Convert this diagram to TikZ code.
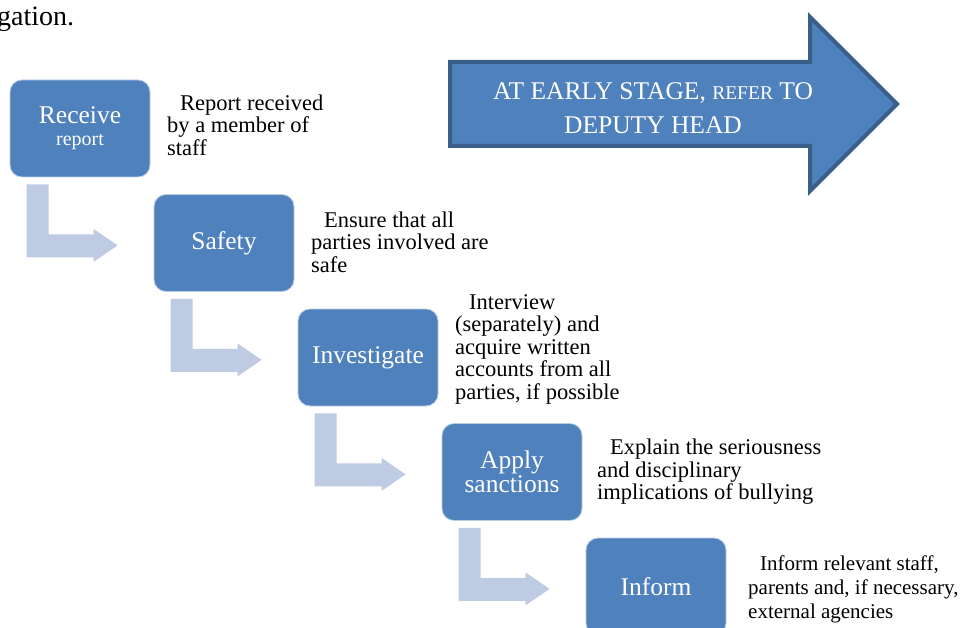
\documentclass[tikz,border=0pt]{standalone}
\usepackage{fontspec}
\setmainfont{Liberation Serif}
\usetikzlibrary{calc}
\definecolor{boxblue}{HTML}{4F81BD}
\definecolor{arrowedge}{HTML}{3A5F8B}
\definecolor{bentblue}{HTML}{BFCBE3}
\tikzset{
  stepbox/.style={rounded corners=12pt, fill=boxblue, draw=white!60!boxblue, line width=0.8pt,
    minimum width=140pt, minimum height=97pt, text=white, align=center,
    font=\fontsize{25.5pt}{26pt}\selectfont, inner sep=0pt},
  desc/.style={anchor=west, align=left, inner sep=0pt, text=black,
    font=\fontsize{22.5pt}{22.5pt}\selectfont},
  bent/.style={fill=bentblue, draw=none},
}
\begin{document}
\begin{tikzpicture}[x=1pt,y=-1pt]
\useasboundingbox (0,0) rectangle (966,628);
\clip (0,0) rectangle (966,628);
\node[anchor=base west, inner sep=0pt, font=\fontsize{28pt}{30pt}\selectfont] (top) at (-3,26) {gation.};

% big arrow
\draw[line width=4pt, draw=arrowedge, fill=boxblue, line join=miter]
  (450,62) -- (810,62) -- (810,17) -- (897,104) -- (810,191) -- (810,146) -- (450,146) -- cycle;
\node[text=white, align=center, font=\fontsize{25.5pt}{34pt}\selectfont] (stage) at (653,108)
  {AT EARLY STAGE, {\fontsize{19.5pt}{24pt}\selectfont REFER} TO\\DEPUTY HEAD};

% step boxes
\node[stepbox] (b1) at (80,128.5) {Receive\\[-4pt]{\fontsize{20pt}{22pt}\selectfont report}};
\node[stepbox] (b2) at (224,243) {Safety};
\node[stepbox] (b3) at (368,357.5) {Investigate};
\node[stepbox] (b4) at (512,472) {Apply\\[-2pt]sanctions};
\node[stepbox] (b5) at (656,586.5) {Inform};

% bent arrows
\foreach \b in {b1,b2,b3,b4}{
  \fill[bentblue]
    ($(\b.south west)+(17,7)$) -- ($(\b.south west)+(39,7)$) -- ($(\b.south west)+(39,57)$)
    -- ($(\b.south west)+(84,57)$) -- ($(\b.south west)+(84,51.5)$) -- ($(\b.south west)+(108,68)$)
    -- ($(\b.south west)+(84,84.5)$) -- ($(\b.south west)+(84,80)$) -- ($(\b.south west)+(17,80)$) -- cycle;
}

% descriptions
\node[desc] (d1) at (167,125) {\hspace*{13pt}Report received\\by a member of\\staff};
\node[desc] (d2) at (311,242) {\hspace*{13pt}Ensure that all\\parties involved are\\safe};
\node[desc] (d3) at (455,349) {\hspace*{14pt}Interview\\(separately) and\\acquire written\\accounts from all\\parties, if possible};
\node[desc] (d4) at (597,472) {\hspace*{13pt}Explain the seriousness\\and disciplinary\\implications of bullying};
\node[desc, font=\fontsize{21pt}{24pt}\selectfont] (d5) at (748,589) {\hspace*{12pt}Inform relevant staff,\\parents and, if necessary,\\external agencies};
\end{tikzpicture}
\end{document}
